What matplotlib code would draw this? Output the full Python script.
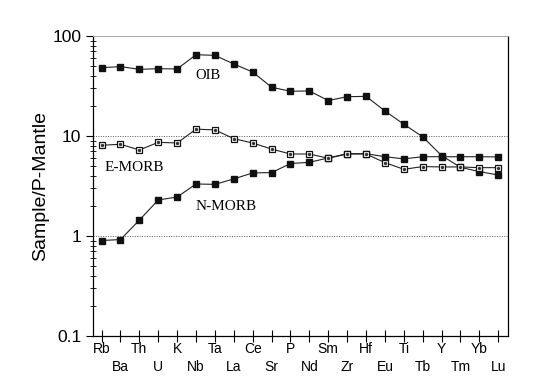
import matplotlib.pyplot as plt
from matplotlib.ticker import LogLocator, NullFormatter

# element order (spidergram)
elements = ["Rb", "Ba", "Th", "U", "K", "Nb", "Ta", "La", "Ce", "Sr", "P",
            "Nd", "Sm", "Zr", "Hf", "Eu", "Ti", "Tb", "Y", "Tm", "Yb", "Lu"]

oib = [48.2, 49.4, 46.4, 47.1, 46.8, 65.0, 64.0, 52.5, 43.6, 30.7, 28.0,
       28.2, 22.6, 24.7, 24.9, 17.8, 13.1, 9.8, 6.36, 4.86, 4.4, 4.07]

e_morb = [8.07, 8.26, 7.24, 8.64, 8.51, 11.7, 11.5, 9.4, 8.5, 7.4, 6.6,
          6.6, 5.98, 6.6, 6.6, 5.41, 4.64, 4.94, 4.9, 4.9, 4.82, 4.82]

n_morb = [0.90, 0.92, 1.44, 2.29, 2.45, 3.31, 3.28, 3.72, 4.27, 4.3, 5.3,
          5.45, 6.03, 6.65, 6.65, 6.2, 5.9, 6.2, 6.2, 6.2, 6.2, 6.17]

x = list(range(len(elements)))

fig = plt.figure(figsize=(5.35, 3.87), dpi=100)
ax = fig.add_axes([0.174, 0.132, 0.775, 0.775])

# filled series
for vals in (oib, n_morb):
    ax.plot(x, vals, color="#222222", lw=0.8, marker="s", ms=4.2,
            mfc="#111111", mec="#111111", zorder=3)

# open squares with a dot inside
ax.plot(x, e_morb, color="#222222", lw=0.8, marker="s", ms=4.6,
        mfc="white", mec="#111111", mew=0.9, zorder=4)
ax.plot(x, e_morb, ls="none", marker="o", ms=1.4, mfc="#333333",
        mec="#333333", zorder=5)

ax.set_yscale("log")
ax.set_ylim(0.1, 100)
ax.set_xlim(-0.45, 21.5)

# dotted reference lines
for yv in (1, 10):
    ax.axhline(yv, color="#555555", lw=0.7, ls=(0, (1, 1.5)), zorder=1)

ax.yaxis.set_major_locator(LogLocator(base=10, numticks=10))
ax.yaxis.set_minor_locator(LogLocator(base=10, subs=range(2, 10), numticks=10))
ax.yaxis.set_minor_formatter(NullFormatter())
ax.set_yticks([0.1, 1, 10, 100])
ax.set_yticklabels(["0.1", "1", "10", "100"], fontsize=12.5,
                   fontfamily="Liberation Sans")
ax.tick_params(axis="y", which="major", direction="out", length=5, width=0.8)
ax.tick_params(axis="y", which="minor", direction="inout", length=5, width=0.6)

ax.set_xticks(x)
ax.set_xticklabels([])
ax.tick_params(axis="x", direction="inout", length=8, width=0.8)
for i, name in enumerate(elements):
    yoff = -0.042 if i % 2 == 0 else -0.105
    ax.text(i, yoff, name, transform=ax.get_xaxis_transform(), ha="center",
            va="center", fontsize=10, fontfamily="Liberation Sans")

ax.set_ylabel("Sample/P-Mantle", fontsize=14, fontfamily="Liberation Sans",
              labelpad=2)

for side in ("left", "bottom", "right"):
    ax.spines[side].set_linewidth(0.9)
ax.spines["top"].set_color("#aaaaaa")
ax.spines["top"].set_linewidth(0.7)

ax.text(4.95, 37, "OIB", fontsize=10.5, fontfamily="Liberation Serif")
ax.text(0.15, 4.5, "E-MORB", fontsize=11, fontfamily="Liberation Serif")
ax.text(4.95, 1.8, "N-MORB", fontsize=11, fontfamily="Liberation Serif")

fig.savefig("out.png", dpi=100)
